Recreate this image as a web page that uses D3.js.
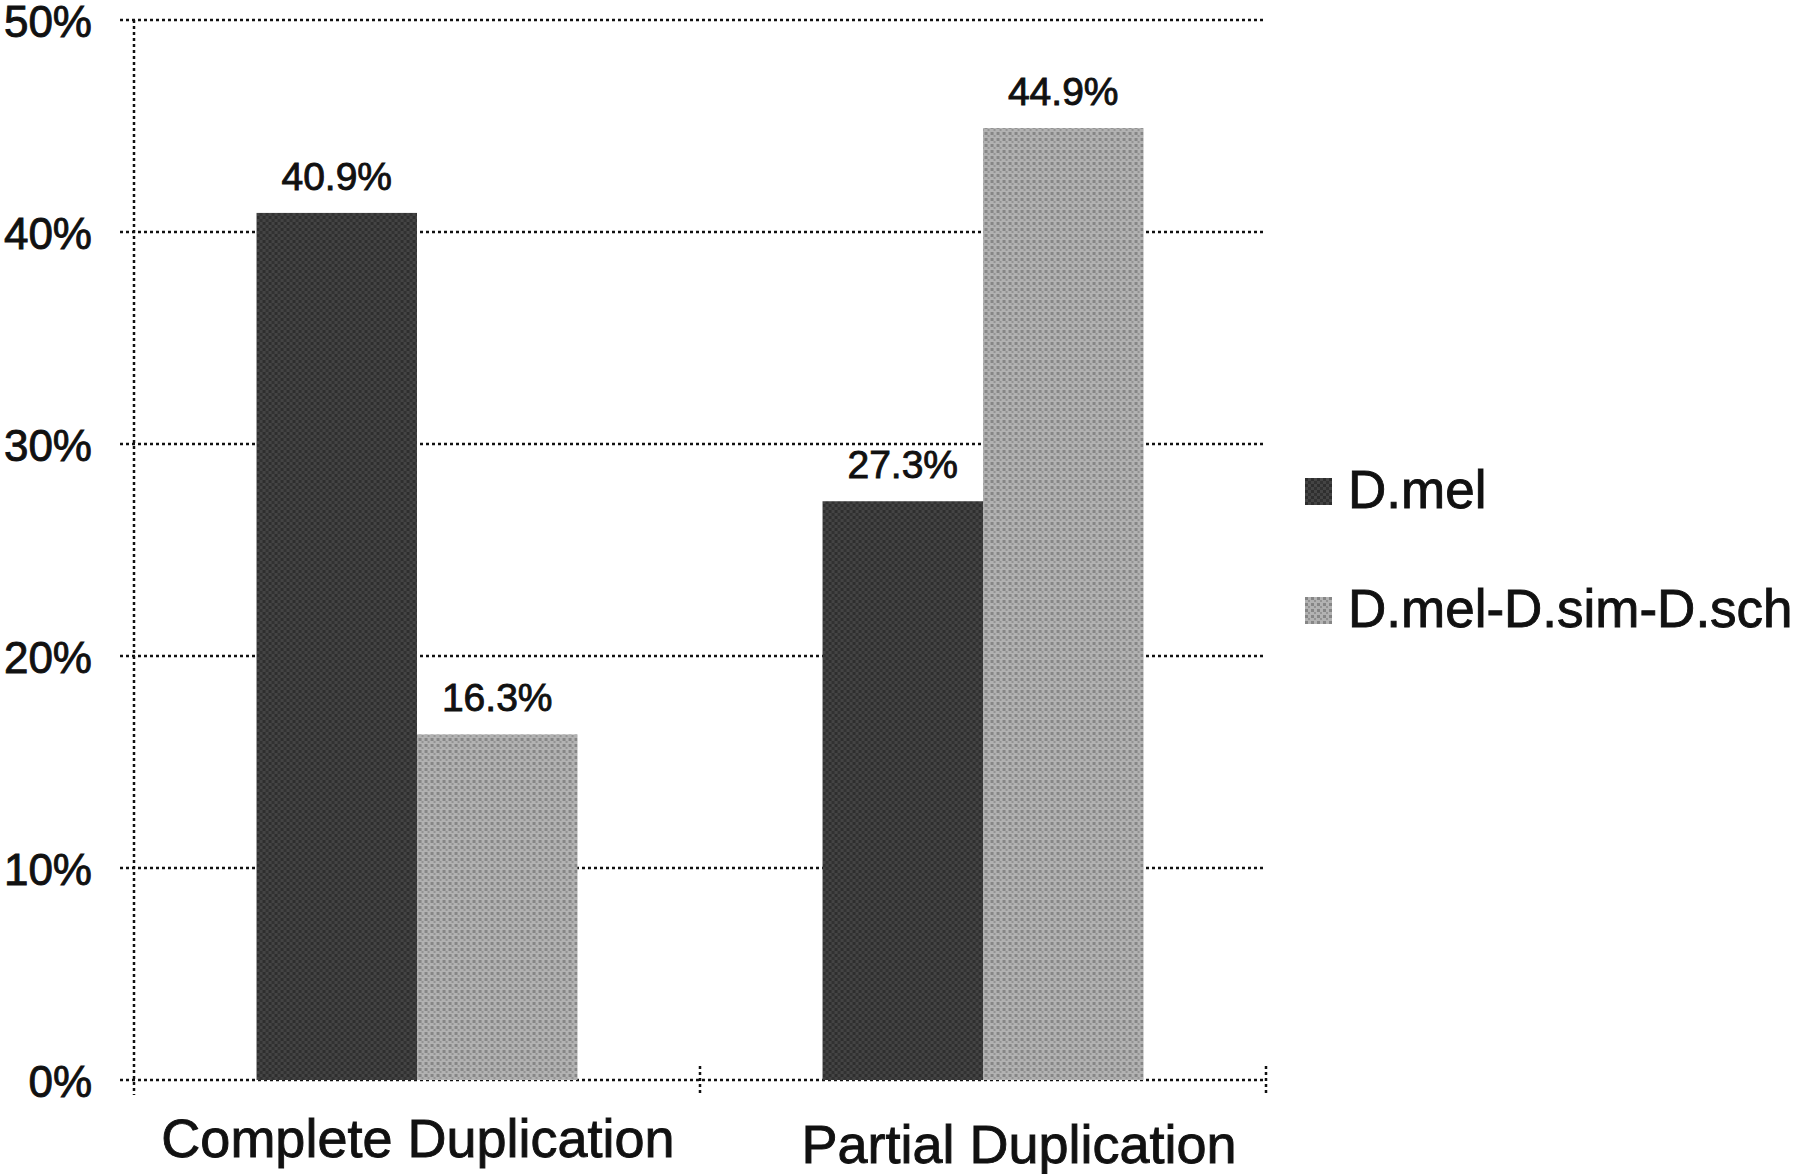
<!DOCTYPE html>
<html>
<head>
<meta charset="utf-8">
<script src="https://cdn.jsdelivr.net/npm/d3@7"></script>
<style>
  body { margin: 0; background: #fff; }
  svg { display: block; font-family: "Liberation Sans", Arial, sans-serif; }
  text { stroke: #111; stroke-width: 0.9px; }
</style>
</head>
<body>
<div id="chart"></div>
<script>
// data
var categories = ["Complete Duplication", "Partial Duplication"];
var series = ["D.mel", "D.mel-D.sim-D.sch"];
var dmelValues = [0.409, 0.273];
var tripleValues = [0.163, 0.449];
var yTicks = [0, 0.1, 0.2, 0.3, 0.4, 0.5];

var width = 1800, height = 1174;
var margin = { top: 20, left: 134, right: 534, bottom: 94 };

var svg = d3.select("#chart").append("svg")
    .attr("width", width)
    .attr("height", height);

// halftone-like fills for the bars
var defs = svg.append("defs");
var darkPat = defs.append("pattern")
    .attr("id", "darkFill").attr("width", 6).attr("height", 6)
    .attr("patternUnits", "userSpaceOnUse");
darkPat.append("rect").attr("width", 6).attr("height", 6).attr("fill", "#444");
darkPat.append("rect").attr("x", 0).attr("y", 0).attr("width", 3).attr("height", 3).attr("fill", "#2e2e2e");
darkPat.append("rect").attr("x", 3).attr("y", 3).attr("width", 3).attr("height", 3).attr("fill", "#323232");

var lightPat = defs.append("pattern")
    .attr("id", "lightFill").attr("width", 6).attr("height", 6)
    .attr("patternUnits", "userSpaceOnUse");
lightPat.append("rect").attr("width", 6).attr("height", 6).attr("fill", "#b2b2b2");
lightPat.append("rect").attr("x", 0).attr("y", 0).attr("width", 3).attr("height", 3).attr("fill", "#868686");
lightPat.append("rect").attr("x", 3).attr("y", 3).attr("width", 2).attr("height", 2).attr("fill", "#939393");

var fills = ["url(#darkFill)", "url(#lightFill)"];

var plotW = width - margin.left - margin.right;
var y0 = height - margin.bottom;

var x = d3.scaleBand()
    .domain(categories)
    .range([margin.left, margin.left + plotW])
    .paddingInner(0.433)
    .paddingOuter(0.2165);

var xSub = d3.scaleBand()
    .domain(series)
    .range([0, x.bandwidth()]);

var y = d3.scaleLinear()
    .domain([0, 0.5])
    .range([y0, margin.top]);

var dotted = "3,3";

// horizontal gridlines (with small tick stubs left of the axis)
svg.append("g")
    .selectAll("line")
    .data(yTicks)
    .join("line")
    .attr("x1", margin.left - 14)
    .attr("x2", margin.left + plotW)
    .attr("y1", d => y(d))
    .attr("y2", d => y(d))
    .attr("stroke", "#111")
    .attr("stroke-width", 2.5)
    .attr("stroke-dasharray", dotted);

// vertical axis line
svg.append("line")
    .attr("x1", margin.left).attr("x2", margin.left)
    .attr("y1", y(0.5)).attr("y2", y0 + 15)
    .attr("stroke", "#111")
    .attr("stroke-width", 2.5)
    .attr("stroke-dasharray", dotted);

// category boundary ticks on the x axis
var boundaries = [x.step(), 2 * x.step()].map(d => margin.left + d);
svg.append("g")
    .selectAll("line")
    .data(boundaries)
    .join("line")
    .attr("x1", d => d).attr("x2", d => d)
    .attr("y1", y0 - 14).attr("y2", y0 + 15)
    .attr("stroke", "#111")
    .attr("stroke-width", 2.5)
    .attr("stroke-dasharray", dotted);

// y tick labels
svg.append("g")
    .selectAll("text")
    .data(yTicks)
    .join("text")
    .attr("x", 92)
    .attr("y", d => y(d) + 17)
    .attr("text-anchor", "end")
    .attr("font-size", 44)
    .attr("fill", "#111")
    .text(d => d3.format(".0%")(d));

// bars
var rows = categories.map(function (c, i) {
    return { cat: c, vals: [dmelValues[i], tripleValues[i]] };
});

var groups = svg.append("g")
    .selectAll("g")
    .data(rows)
    .join("g")
    .attr("transform", d => "translate(" + x(d.cat) + ",0)");

groups.selectAll("rect")
    .data(d => d.vals.map((v, j) => ({ key: series[j], v: v, j: j })))
    .join("rect")
    .attr("x", d => xSub(d.key))
    .attr("width", xSub.bandwidth())
    .attr("y", d => y(d.v))
    .attr("height", d => y0 - y(d.v))
    .attr("fill", d => fills[d.j]);

groups.selectAll("text")
    .data(d => d.vals.map((v, j) => ({ key: series[j], v: v })))
    .join("text")
    .attr("x", d => xSub(d.key) + xSub.bandwidth() / 2)
    .attr("y", d => y(d.v) - 23)
    .attr("text-anchor", "middle")
    .attr("font-size", 39)
    .attr("fill", "#111")
    .text(d => d3.format(".1%")(d.v));

// category labels
var labelShift = [1, 36];
var labelDrop = [1157, 1163];
svg.append("g")
    .selectAll("text")
    .data(categories)
    .join("text")
    .attr("x", (d, i) => x(d) + x.bandwidth() / 2 + labelShift[i])
    .attr("y", (d, i) => labelDrop[i])
    .attr("text-anchor", "middle")
    .attr("font-size", 54)
    .attr("fill", "#111")
    .text(d => d);

// legend
var legend = svg.append("g")
    .selectAll("g")
    .data(series)
    .join("g")
    .attr("transform", (d, i) => "translate(1305," + (478 + i * 119) + ")");

legend.append("rect")
    .attr("width", 27)
    .attr("height", 27)
    .attr("fill", (d, i) => fills[i]);

legend.append("text")
    .attr("x", 43)
    .attr("y", 30)
    .attr("font-size", 53)
    .attr("fill", "#111")
    .text(d => d);
</script>
</body>
</html>
